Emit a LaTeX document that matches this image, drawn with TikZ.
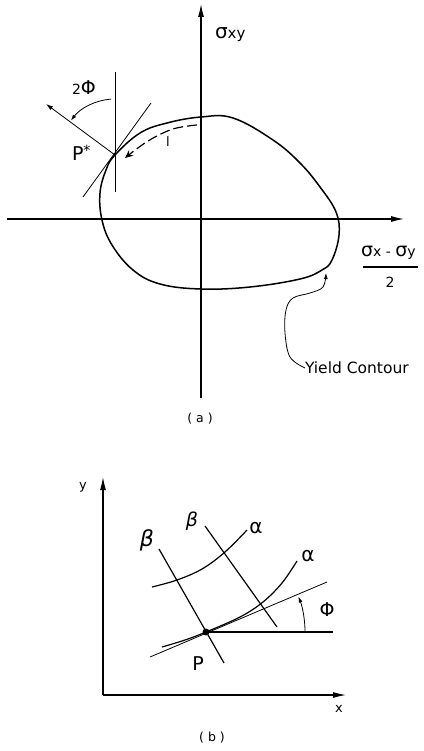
\documentclass[tikz,border=0pt]{standalone}
\usepackage{fontspec}
\setmainfont{DejaVu Sans}
\usetikzlibrary{arrows.meta}
\newcommand{\fs}[1]{\fontsize{#1}{#1}\selectfont}
\begin{document}
\begin{tikzpicture}[x=1pt,y=-1pt,
  axis/.style={line width=1.1pt,-{Latex[length=13pt,width=6pt]}},
  contour/.style={line width=1.5pt},
  thinline/.style={line width=0.8pt},
  midline/.style={line width=1.2pt},
  lbl/.style={inner sep=0pt,outer sep=0pt}]
\useasboundingbox (0,0) rectangle (423,751);
% ---------------- (a) ----------------
\coordinate (vbot) at (201,398);
\coordinate (vtop) at (201,4);
\coordinate (hl) at (7,219);
\coordinate (hr) at (404,219);
\draw[axis] (vbot) -- (vtop);
\draw[axis] (hl) -- (hr);
\draw[contour] plot[smooth cycle, tension=0.65] coordinates {(115,155) (140,133) (167,123) (201,117) (233,118) (273,140) (300,163) (320,187) (336,212) (339,235) (332,260) (322,270) (300,279) (250,287) (201,289) (160,284) (133,270) (112,245) (102,220) (100,193) (106,170)};
\coordinate (Ps) at (115,155);
\coordinate (tanA) at (83,197);
\coordinate (tanB) at (151,103);
\coordinate (vlA) at (115,72);
\coordinate (vlB) at (115,192);
\coordinate (nTip) at (46,104);
\draw[thinline] (tanA) -- (tanB);
\draw[thinline] (vlA) -- (vlB);
\draw[thinline,-{Latex[length=7pt,width=4.5pt]}] (Ps) -- (nTip);
\draw[thinline,-{Latex[length=6pt,width=4pt]}] (Ps) ++(-94:56) arc[start angle=-94,end angle=-142,radius=56];
\draw[line width=1.2pt,dash pattern=on 10pt off 4pt,-{Stealth[length=8pt,width=7pt]}] plot[smooth,tension=0.6] coordinates {(197,125) (173,129) (148,141) (125,158)};
\node[lbl] (lL) at (168,142) {\fs{13}l};
\node[lbl,anchor=base west] (sxy) at (215,39) {{\fs{20}σ}{\fs{15}xy}};
\node[lbl,anchor=base west] (sxmy) at (361,256) {{\fs{19}σ}{\fs{14}x - }{\fs{19}σ}{\fs{14}y}};
\coordinate (fracA) at (363,267);
\coordinate (fracB) at (418,267);
\draw[midline] (fracA) -- (fracB);
\node[lbl] (two) at (390,282) {\fs{14}2};
\node[lbl,anchor=base west] (Pstar) at (72,161) {{\fs{19}P}\raisebox{5pt}{\fs{14}*}};
\node[lbl,anchor=base west] (twophi) at (72,95) {{\fs{14}2}{\fs{19}Φ}};
\node[lbl,anchor=west] (yc) at (305,368) {\fs{15.5}Yield Contour};
\coordinate (ycTip) at (326,272);
\draw[thinline,-{Latex[length=6pt,width=4pt]}] plot[smooth,tension=0.6] coordinates {(305,368) (290,357) (285,333) (286,310) (293,298) (310,293) (323,287) (326,273)};
\node[lbl] (capa) at (200,419) {\fs{12.5}( a )};
% ---------------- (b) ----------------
\coordinate (yb) at (103,695);
\coordinate (yt) at (103,477);
\coordinate (xr) at (346,695);
\draw[axis] (yb) -- (yt);
\draw[axis] (yb) -- (xr);
\node[lbl] (ylab) at (83,487) {\fs{13}y};
\node[lbl] (xlab) at (339,709) {\fs{13}x};
\coordinate (P) at (206,632);
\coordinate (hEnd) at (333,632);
\coordinate (tA) at (150,657);
\coordinate (tB) at (327,582);
\draw[midline] (P) -- (hEnd);
\draw[thinline] (tA) -- (tB);
\draw[midline] plot[smooth,tension=0.6] coordinates {(162,647) (185,640) (206,632) (240,617) (263,602) (282,583) (297,561)};
\draw[midline] plot[smooth,tension=0.6] coordinates {(152,587) (177,580) (202,569) (225,552) (247,530)};
\coordinate (b1A) at (159,549);
\coordinate (b1B) at (224,663);
\coordinate (b2A) at (205,526);
\coordinate (b2B) at (277,627);
\draw[midline] (b1A) -- (b1B);
\draw[midline] (b2A) -- (b2B);
\fill (P) circle (3.5);
\draw[thinline,-{Latex[length=6pt,width=4pt]}] (P) ++(0:99) arc[start angle=0,end angle=-21,radius=99];
\node[lbl] (beta1) at (147,540) {\fs{22}\itshape β};
\node[lbl] (beta2) at (192,521) {\fs{19}\itshape β};
\node[lbl] (alpha1) at (256,528) {\fs{20}α};
\node[lbl] (alpha2) at (308,556) {\fs{20}α};
\node[lbl] (phib) at (327,610) {\fs{19}Φ};
\node[lbl] (Plab) at (198,664) {\fs{19}P};
\node[lbl] (capb) at (212,738) {\fs{12.5}( b )};
\end{tikzpicture}
\end{document}
